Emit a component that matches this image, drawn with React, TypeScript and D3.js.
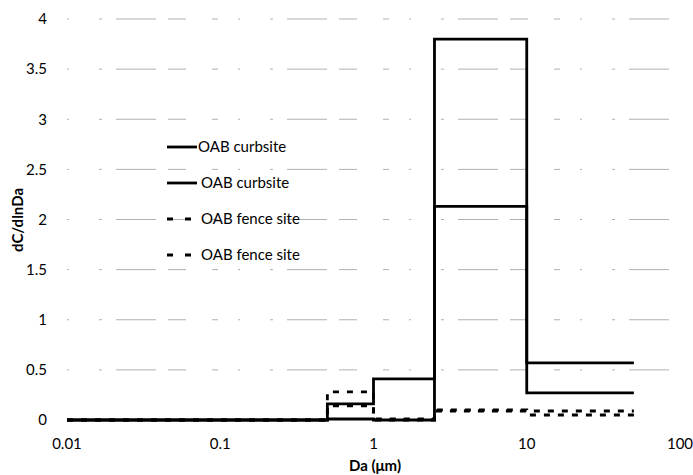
import React from "react";
import * as d3 from "d3";

const binEdges = [0.01, 0.5, 1, 2.5, 10, 50];
const curbsiteA = [0, 0.16, 0.41, 3.8, 0.57];
const curbsiteB = [0, 0.01, 0, 2.13, 0.27];
const fenceA = [0, 0.28, 0.01, 0.1, 0.09];
const fenceB = [0, 0.14, 0.0, 0.09, 0.05];
const seriesNames = ["OAB curbsite", "OAB curbsite", "OAB fence site", "OAB fence site"];
const xTicks = [0.01, 0.1, 1, 10, 100];
const xTickLabels = ["0.01", "0.1", "1", "10", "100"];
const yTicks = [0, 0.5, 1, 1.5, 2, 2.5, 3, 3.5, 4];

const W = 693;
const H = 475;
const FONT = "Lato, 'Open Sans', sans-serif";

export default function App() {
  const x = d3.scaleLog().domain([0.01, 100]).range([67, 680]);
  const y = d3.scaleLinear().domain([0, 4]).range([420, 19]);

  const stepPath = (vals: number[]) => {
    const pts: [number, number][] = [];
    vals.forEach((v, i) => {
      pts.push([binEdges[i], v]);
      pts.push([binEdges[i + 1], v]);
    });
    return d3
      .line<[number, number]>()
      .x((d) => x(d[0]))
      .y((d) => y(d[1]))(pts) as string;
  };

  const series = [
    { vals: curbsiteA, dash: undefined as string | undefined, ldash: undefined as string | undefined },
    { vals: curbsiteB, dash: undefined, ldash: undefined },
    { vals: fenceA, dash: "6 8", ldash: "6 12" },
    { vals: fenceB, dash: "6 8", ldash: "6 12" },
  ];

  const legendY = [147, 183, 219, 255];

  return (
    <svg width={W} height={H} style={{ position: "absolute", left: 0, top: 0, background: "#fff" }}>
      <rect x={0} y={0} width={W} height={H} fill="#fff" />
      {yTicks.filter((t) => t > 0).map((t) => (
        <line
          key={"g" + t}
          x1={x(0.01)}
          x2={x(100)}
          y1={y(t)}
          y2={y(t)}
          stroke="#b0b0b0"
          strokeWidth={1}
          strokeDasharray="2 30 3 14 40 12 18 26 6 20"
        />
      ))}
      {series.map((s, i) => (
        <path
          key={"s" + i}
          d={stepPath(s.vals)}
          fill="none"
          stroke="#000"
          strokeWidth={2.8}
          strokeDasharray={s.dash}
        />
      ))}
      {yTicks.map((t) => (
        <text
          key={"y" + t}
          x={47}
          y={y(t)}
          dy="0.35em"
          textAnchor="end"
          fontFamily={FONT}
          fontSize={15}
          fill="#000"
        >
          {String(t)}
        </text>
      ))}
      {xTicks.map((t, i) => (
        <text
          key={"x" + t}
          x={x(t)}
          y={444}
          dy="0.35em"
          textAnchor="middle"
          fontFamily={FONT}
          fontSize={15}
          fill="#000"
        >
          {xTickLabels[i]}
        </text>
      ))}
      <text
        x={375}
        y={466}
        dy="0.35em"
        textAnchor="middle"
        fontFamily={FONT}
        fontSize={15}
        fontWeight="bold"
      >
        Da (μm)
      </text>
      <text
        transform={`translate(18,220) rotate(-90)`}
        dy="0.35em"
        textAnchor="middle"
        fontFamily={FONT}
        fontSize={15}
        fontWeight="bold"
      >
        dC/dlnDa
      </text>
      {seriesNames.map((n, i) => (
        <g key={"l" + i}>
          <line
            x1={167}
            x2={i < 2 ? 197 : 191}
            y1={legendY[i]}
            y2={legendY[i]}
            stroke="#000"
            strokeWidth={2.8}
            strokeDasharray={series[i].ldash}
          />
          <text
            x={i === 0 ? 198 : 201}
            y={legendY[i]}
            dy="0.35em"
            fontFamily={FONT}
            fontSize={15}
            fill="#000"
          >
            {n}
          </text>
        </g>
      ))}
    </svg>
  );
}
